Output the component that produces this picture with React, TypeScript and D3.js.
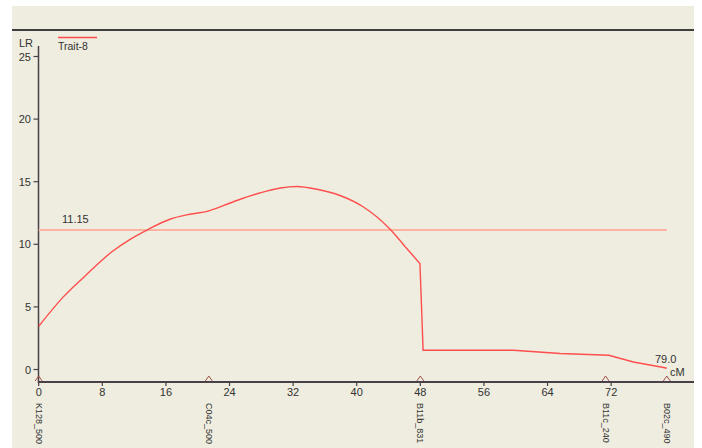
import React from "react";
import * as d3 from "d3";

// LOD-style interval mapping profile for one trait along a linkage group
const positionsCM = [0, 3.1, 5.8, 9.2, 11.5, 13.8, 16.5, 19.0, 21.3, 24.5, 27.8, 30.4, 32.5, 35.0, 37.9, 40.8, 44.2, 46.1, 47.95, 48.35, 59.7, 65.6, 71.7, 74.8, 78.6, 79.0];
const lrValues = [3.45, 5.8, 7.45, 9.4, 10.4, 11.2, 12.0, 12.4, 12.65, 13.4, 14.1, 14.5, 14.62, 14.4, 13.9, 13.0, 11.2, 9.8, 8.47, 1.54, 1.54, 1.28, 1.14, 0.6, 0.16, 0.1];

const markerNames = ["K128_500", "C04c_500", "B11b_831", "B11c_240", "B02c_490"];
const markerPositions = [0, 21.4, 48.0, 71.3, 79.0];

const xTicks = [0, 8, 16, 24, 32, 40, 48, 56, 64, 72];
const yTicks = [0, 5, 10, 15, 20, 25];

const threshold = 11.15;
const traitName = "Trait-8";
const groupLength = 79.0;

const FONT = "'Liberation Sans', Arial, sans-serif";

export default function App() {
  const x = d3.scaleLinear().domain([0, groupLength]).range([38.7, 666.8]);
  const y = d3.scaleLinear().domain([0, 25]).range([369.5, 56.5]);
  const axisY = 382;
  const axisX = 38.5;

  const profile = positionsCM.map((p, i) => [p, lrValues[i]] as [number, number]);
  // smooth rise and fall up to the drop at the B11b_831 marker, straight segments after it
  const splitIdx = 17;
  const smoothPart = profile.slice(0, splitIdx + 1);
  const straightPart = profile.slice(splitIdx);
  const smoothLine = d3
    .line<[number, number]>()
    .x((d) => x(d[0]))
    .y((d) => y(d[1]))
    .curve(d3.curveMonotoneX);
  const straightLine = d3
    .line<[number, number]>()
    .x((d) => x(d[0]))
    .y((d) => y(d[1]));

  return (
    <svg
      width={702}
      height={448}
      style={{ position: "absolute", left: 0, top: 0, background: "#ffffff" }}
      fontFamily={FONT}
    >
      <rect x={12} y={6} width={682} height={442} fill="#eeeddf" />
      <line x1={12} x2={694} y1={30} y2={30} stroke="#3e3e3e" strokeWidth={2} />

      {/* legend */}
      <line x1={58} x2={97} y1={37.5} y2={37.5} stroke="#ff4a4a" strokeWidth={1.5} />
      <text x={58} y={50} fontSize={10.5} fill="#333">{traitName}</text>

      {/* y axis */}
      <text x={19} y={47} fontSize={11} fill="#333">LR</text>
      <line x1={axisX} x2={axisX} y1={46} y2={axisY + 1} stroke="#4a4047" strokeWidth={1.5} />
      {yTicks.map((t) => (
        <g key={`y${t}`}>
          <line x1={axisX - 5} x2={axisX} y1={y(t)} y2={y(t)} stroke="#4a4047" strokeWidth={1.2} />
          <text x={31} y={y(t) + 4} fontSize={11} fill="#333" textAnchor="end">
            {t}
          </text>
        </g>
      ))}

      {/* x axis */}
      <line x1={axisX} x2={694} y1={axisY} y2={axisY} stroke="#4a4047" strokeWidth={2} />
      {xTicks.map((t) => (
        <g key={`x${t}`}>
          <line x1={x(t)} x2={x(t)} y1={axisY} y2={axisY + 4} stroke="#4a4047" strokeWidth={1.2} />
          <text x={x(t)} y={396} fontSize={11} fill="#333" textAnchor="middle">
            {t}
          </text>
        </g>
      ))}
      <text x={670} y={376} fontSize={11} fill="#333">cM</text>

      {/* markers */}
      {markerNames.map((name, i) => {
        const mx = x(markerPositions[i]);
        return (
          <g key={name}>
            <path
              d={`M${mx - 3.5},${axisY - 1} L${mx},${axisY - 6} L${mx + 3.5},${axisY - 1}`}
              fill="none"
              stroke="#a0504a"
              strokeWidth={1}
            />
            <text
              transform={`translate(${mx - 3},${403}) rotate(90)`}
              fontSize={9}
              fill="#333"
            >
              {name}
            </text>
          </g>
        );
      })}

      {/* significance threshold */}
      <line
        x1={x(0)}
        x2={x(groupLength)}
        y1={y(threshold)}
        y2={y(threshold)}
        stroke="#ffb3a3"
        strokeWidth={2}
      />
      <text x={62} y={223} fontSize={11} fill="#333">
        {threshold.toFixed(2)}
      </text>

      {/* LR profile */}
      <path d={smoothLine(smoothPart) ?? ""} fill="none" stroke="#ff4e4e" strokeWidth={1.4} />
      <path d={straightLine(straightPart) ?? ""} fill="none" stroke="#ff4e4e" strokeWidth={1.4} />
      <text x={655} y={363} fontSize={11} fill="#333">
        {groupLength.toFixed(1)}
      </text>
    </svg>
  );
}
